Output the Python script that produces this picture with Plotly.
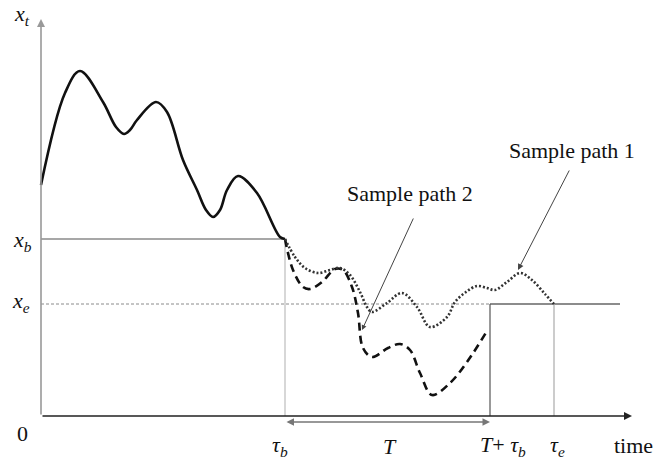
import plotly.graph_objects as go

# ---- data (time units, state units) ----
main_t = [0.0, 2.4, 3.9, 6.2, 7.5, 8.3, 8.9, 9.6, 11.5, 12.6, 14.2, 15.6, 16.5, 17.2, 17.9, 18.6, 19.7, 21.6, 23.9, 24.4]
main_x = [23.1, 32.3, 34.5, 31.4, 28.9, 28.2, 28.6, 29.6, 31.4, 30.4, 25.6, 22.6, 20.6, 19.9, 20.6, 22.6, 24.0, 22.3, 17.9, 17.7]

path1_t = [24.4, 25.4, 26.4, 27.7, 28.9, 29.9, 30.9, 31.9, 32.6, 33.1, 34.6, 36.1, 37.6, 38.9, 40.6, 41.4, 42.5, 43.6, 44.6, 45.4, 46.6, 47.9, 49.1, 50.4, 51.3]
path1_x = [17.7, 15.9, 14.8, 14.3, 14.6, 14.8, 14.1, 12.4, 10.9, 10.4, 11.3, 12.3, 10.9, 8.9, 9.9, 11.4, 12.4, 13.0, 12.8, 12.6, 13.4, 14.3, 13.6, 12.2, 11.2]

path2_t = [24.4, 25.2, 26.2, 26.9, 28.1, 29.4, 30.2, 31.1, 31.7, 32.2, 33.1, 34.7, 35.9, 36.9, 37.9, 39.1, 40.9, 42.6, 44.6]
path2_x = [17.7, 14.6, 12.9, 12.7, 13.4, 14.7, 14.6, 12.9, 10.3, 6.8, 5.9, 6.8, 7.2, 6.6, 4.3, 2.1, 3.3, 5.4, 8.5]

tau_b = 24.4
T_tau_b = 44.9
tau_e = 51.3
x_b = 17.7
x_e = 11.2
t_end = 59.1
x_top = 39.7
xe_line_end = 57.9

FONT = "Liberation Serif"
FS = 22

fig = go.Figure()

def seg(x0, y0, x1, y1, color, width=1.2, dash="solid"):
    fig.add_trace(go.Scatter(x=[x0, x1], y=[y0, y1], mode="lines",
                             line=dict(color=color, width=width, dash=dash),
                             hoverinfo="skip", showlegend=False))

seg(0, x_b, tau_b, x_b, "#8a8a8a", 1.3)
seg(0, x_e, T_tau_b, x_e, "#8a8a8a", 1.0, "3px,2px")
seg(T_tau_b, x_e, xe_line_end, x_e, "#666666", 1.3)
seg(tau_b, 0, tau_b, x_b, "#bdbdbd", 1.2)
seg(T_tau_b, 0, T_tau_b, x_e, "#555555", 1.2)
seg(tau_e, 0, tau_e, x_e, "#aaaaaa", 1.2)

fig.add_trace(go.Scatter(x=main_t, y=main_x, mode="lines",
                         line=dict(color="#111111", width=2.6, shape="spline", smoothing=1.0),
                         showlegend=False))
fig.add_trace(go.Scatter(x=path2_t, y=path2_x, mode="lines",
                         line=dict(color="#111111", width=2.6, shape="spline", smoothing=1.0, dash="8px,5px"),
                         showlegend=False))
fig.add_trace(go.Scatter(x=path1_t, y=path1_x, mode="lines",
                         line=dict(color="#333333", width=2.6, shape="spline", smoothing=1.0, dash="2px,2px"),
                         showlegend=False))

def arrow(x, y, ax, ay, color, width=1.2, head=2, size=1.0, side="end"):
    fig.add_annotation(x=x, y=y, ax=ax, ay=ay, xref="x", yref="y", axref="x", ayref="y",
                       text="", showarrow=True, arrowhead=head, arrowsize=size,
                       arrowwidth=width, arrowcolor=color, arrowside=side, standoff=0, startstandoff=0)

arrow(0, x_top, 0, 0, "#999999", 1.6, 2, 1.0)
arrow(t_end, 0, 0, 0, "#222222", 1.6, 2, 1.0)
arrow(T_tau_b, -0.6, tau_b, -0.6, "#777777", 1.5, 2, 1.0, "end+start")
arrow(47.7, 14.6, 52.9, 24.7, "#444444", 1.0, 2, 1.2)
arrow(32.1, 8.6, 37.3, 19.9, "#444444", 1.0, 2, 1.0)

def label(x, y, text, size=FS):
    fig.add_annotation(x=x, y=y, xref="x", yref="y", text=text, showarrow=False,
                       font=dict(family=FONT, size=size, color="#111111"))

label(-1.9, 40.1, "<i>x<sub>t</sub></i>")
label(-1.9, 17.5, "<i>x<sub>b</sub></i>")
label(-2.0, 11.4, "<i>x<sub>e</sub></i>")
label(-1.9, -1.7, "0")
label(23.9, -3.0, "<i>τ<sub>b</sub></i>")
label(34.9, -3.0, "<i>T</i>")
label(46.2, -3.0, "<i>T</i>+ <i>τ<sub>b</sub></i>")
label(51.6, -3.0, "<i>τ<sub>e</sub></i>")
label(59.2, -2.9, "time")
label(53.1, 26.6, "Sample path 1")
label(36.9, 22.3, "Sample path 2")

fig.update_layout(
    width=654, height=459,
    margin=dict(l=0, r=0, t=0, b=0),
    paper_bgcolor="white", plot_bgcolor="white",
    xaxis=dict(range=[-4.1, 61.3], visible=False, fixedrange=True),
    yaxis=dict(range=[-4.3, 41.6], visible=False, fixedrange=True),
    showlegend=False,
)

fig.write_html("out.html", config={"displayModeBar": False},
               post_script="document.body.style.margin='0';document.body.style.overflow='hidden';")
